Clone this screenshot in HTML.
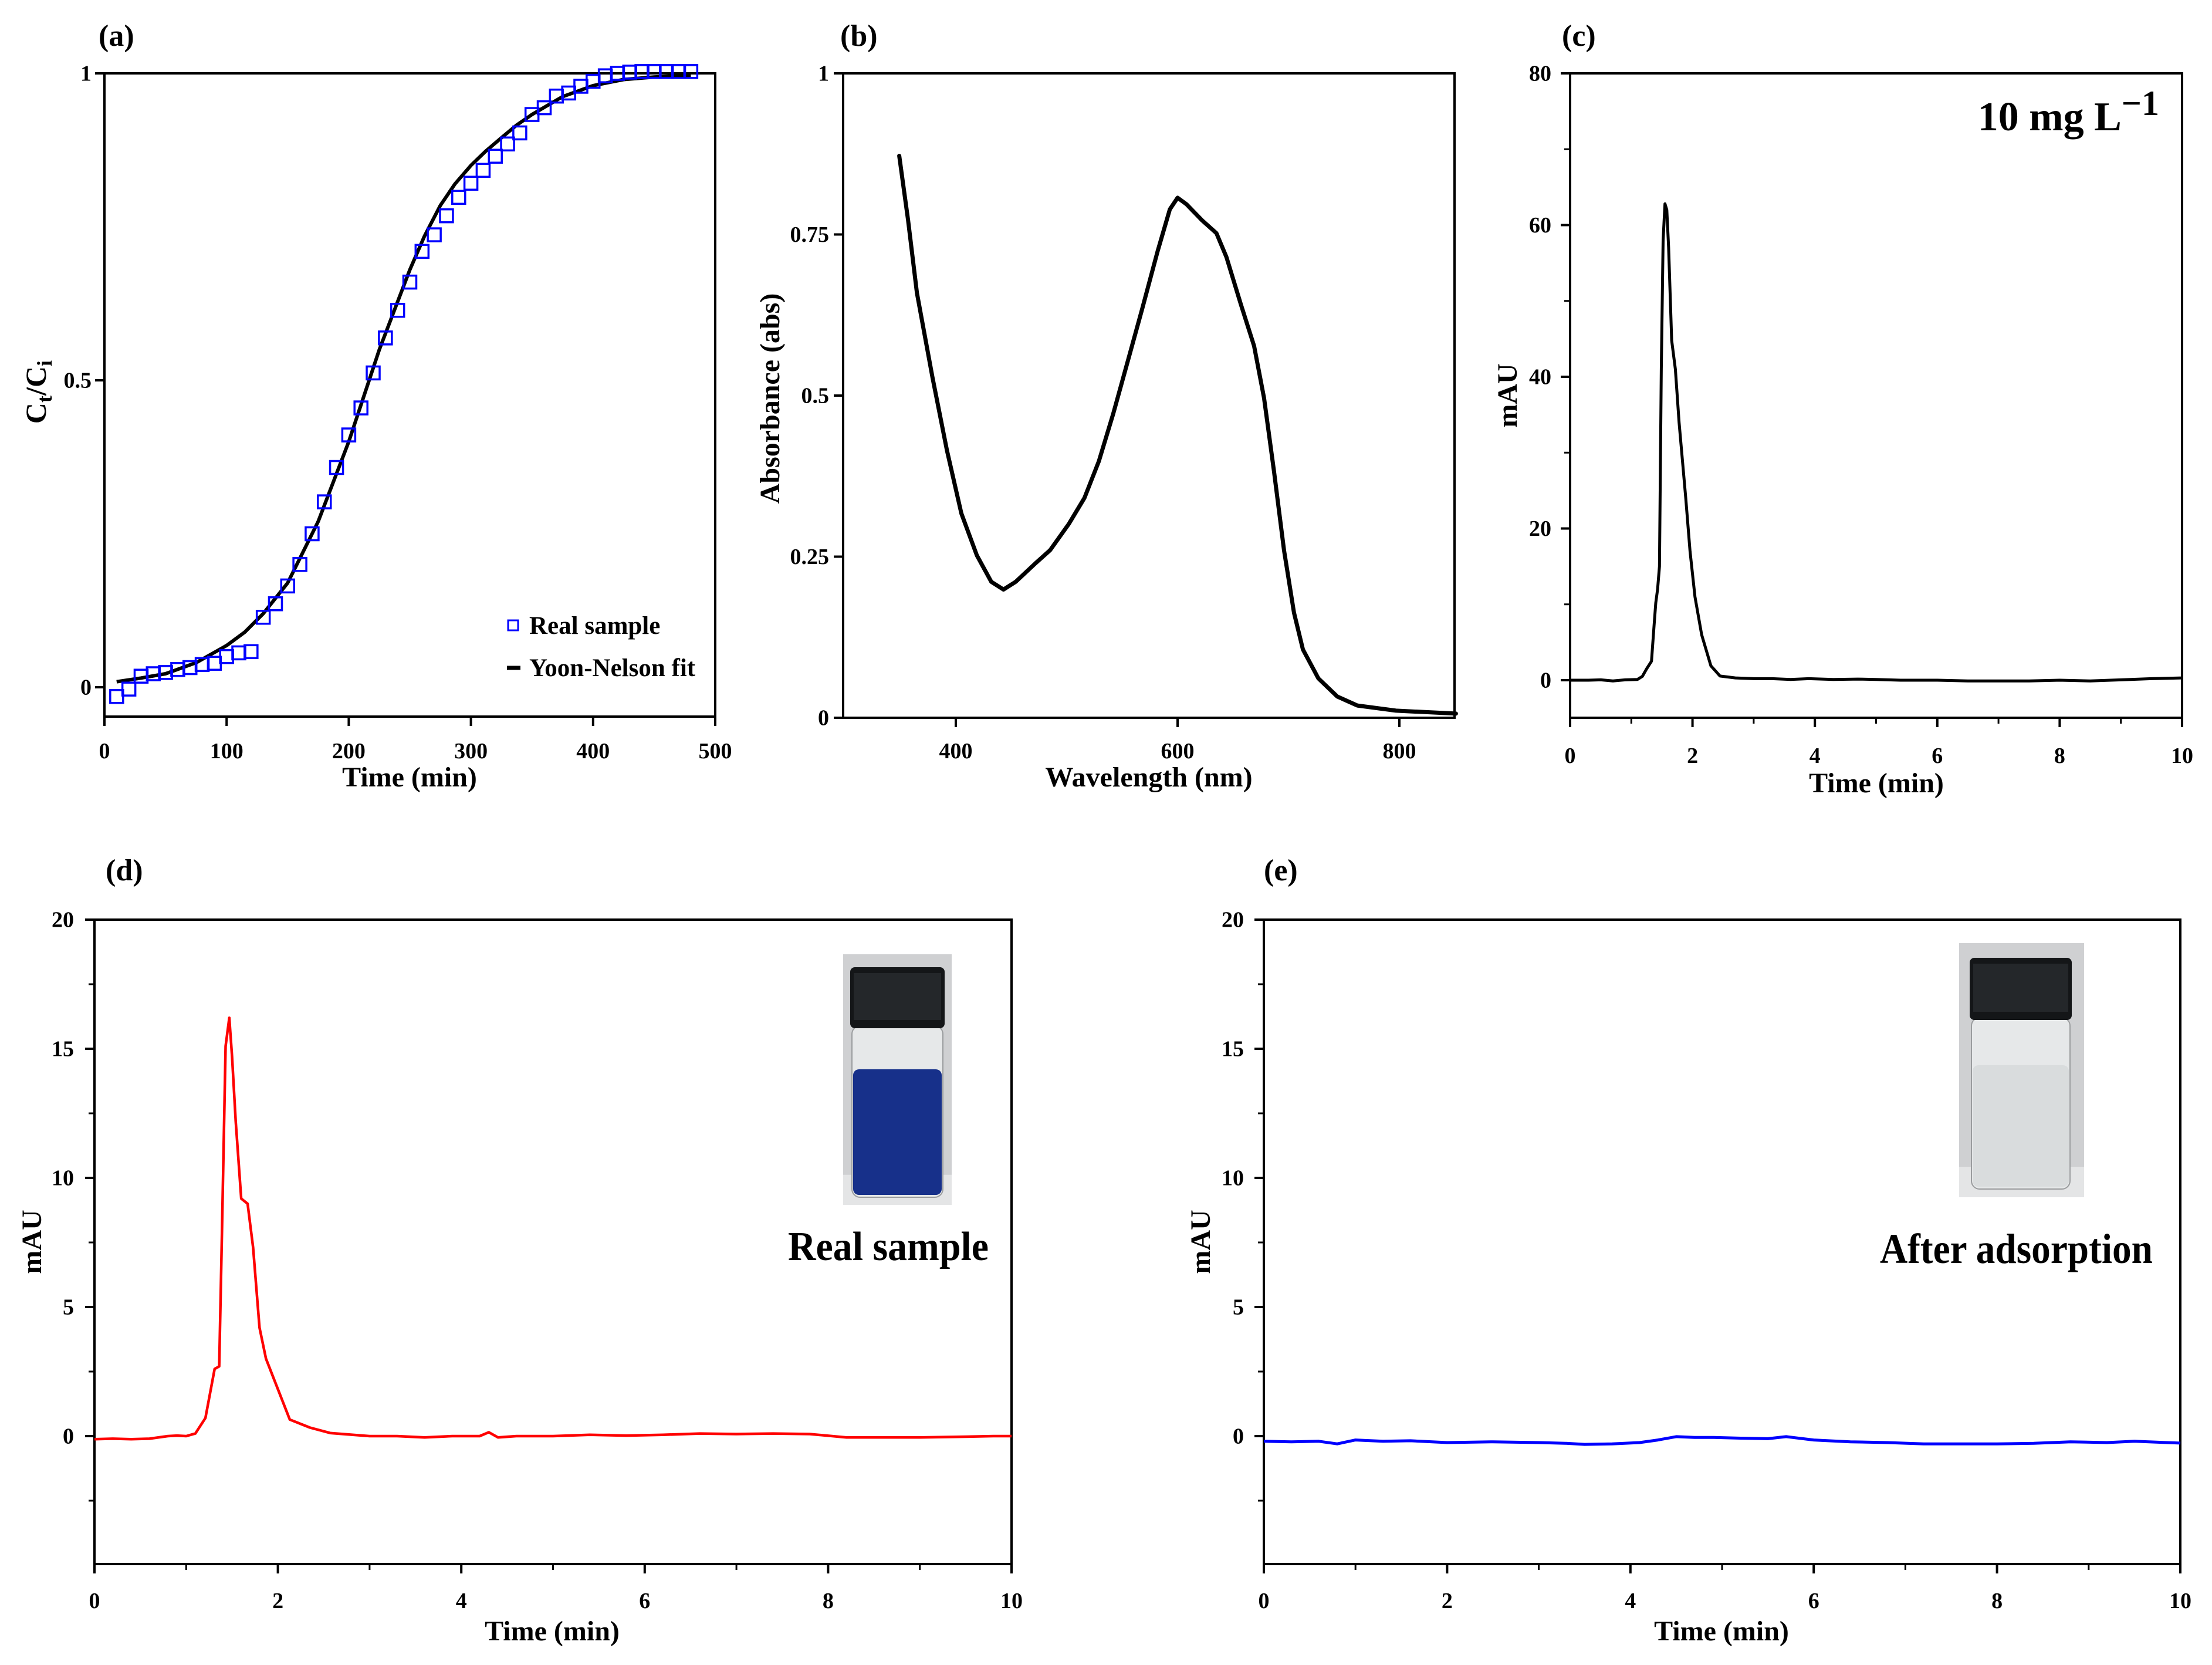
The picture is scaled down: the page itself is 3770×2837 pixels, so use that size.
<!DOCTYPE html>
<html><head><meta charset="utf-8">
<style>
html,body{margin:0;padding:0;background:#fff;}
svg{display:block;}
text{font-family:"Liberation Serif","DejaVu Serif",serif;font-weight:bold;fill:#000;}
</style></head>
<body>
<svg id="fig" width="3770" height="2837" viewBox="0 0 3770 2837" xmlns="http://www.w3.org/2000/svg"></svg>
<script>
// ---------- data ----------
const aTime = [10,20,30,40,50,60,70,80,90,100,110,120,130,140,150,160,170,180,190,200,210,220,230,240,250,260,270,280,290,300,310,320,330,340,350,360,370,380,390,400,410,420,430,440,450,460,470,480];
const aReal = [-0.015,-0.003,0.018,0.022,0.024,0.029,0.032,0.037,0.039,0.05,0.056,0.058,0.114,0.136,0.165,0.2,0.25,0.302,0.358,0.411,0.455,0.512,0.569,0.614,0.66,0.71,0.737,0.768,0.798,0.821,0.842,0.865,0.885,0.903,0.933,0.944,0.963,0.968,0.979,0.987,0.996,1.0,1.002,1.003,1.003,1.003,1.003,1.003];
const aFitT = [10,30,50,75,100,115,130,150,175,200,225,250,262,275,287,300,312,325,337,350,375,400,425,450,480];
const aFitY = [0.009,0.015,0.022,0.04,0.068,0.09,0.12,0.17,0.27,0.4,0.55,0.68,0.735,0.785,0.82,0.85,0.873,0.895,0.915,0.933,0.962,0.98,0.99,0.994,0.997];
const aXTicks = [0,100,200,300,400,500];
const aYTicks = [0,0.5,1];

const bWave = [349,357,365,379,392,405,419,432,443,454,472,485,502,516,529,542,555,568,582,593,600,608,622,635,644,657,669,678,687,696,705,713,727,744,762,797,851];
const bAbs = [0.872,0.772,0.659,0.528,0.415,0.317,0.252,0.211,0.199,0.211,0.24,0.26,0.301,0.341,0.398,0.472,0.553,0.634,0.724,0.789,0.807,0.797,0.772,0.752,0.715,0.642,0.577,0.496,0.382,0.26,0.163,0.106,0.061,0.033,0.019,0.011,0.0065];
const bXTicks = [400,600,800];
const bYTicks = [0,0.25,0.5,0.75,1];

const cTime = [0,0.3,0.5,0.7,0.9,1.1,1.18,1.25,1.33,1.37,1.4,1.43,1.46,1.49,1.52,1.55,1.58,1.61,1.66,1.72,1.78,1.89,1.96,2.04,2.15,2.3,2.45,2.7,3.0,3.3,3.6,3.9,4.3,4.7,5.0,5.4,6,6.5,7,7.5,8,8.5,9,9.5,10];
const cSig = [0,0,0.05,-0.1,0.05,0.1,0.5,1.5,2.5,7,10.2,12,15,41,58,62.8,62,57,44.8,41,34,24,17,11,6,1.9,0.55,0.3,0.2,0.2,0.1,0.2,0.1,0.15,0.1,0,0,-0.1,-0.1,-0.1,0,-0.1,0.05,0.2,0.3];
const cXTicks = [0,2,4,6,8,10];
const cYTicks = [0,20,40,60,80];

const dTime = [0,0.2,0.4,0.6,0.8,0.9,1.0,1.1,1.21,1.31,1.36,1.39,1.43,1.47,1.5,1.54,1.6,1.67,1.73,1.8,1.87,1.98,2.13,2.35,2.57,3.0,3.3,3.6,3.9,4.2,4.3,4.4,4.6,5.0,5.4,5.8,6.2,6.6,7.0,7.4,7.8,8.2,8.6,9.0,9.4,9.8,10];
const dSig = [-0.12,-0.1,-0.12,-0.1,0,0.02,0,0.1,0.7,2.6,2.7,7.9,15.1,16.2,14.7,12.2,9.2,9.0,7.3,4.2,3.0,2.0,0.64,0.33,0.12,0,0,-0.05,0,0,0.15,-0.05,0,0,0.05,0.02,0.05,0.1,0.08,0.1,0.08,-0.05,-0.05,-0.05,-0.03,0,0];
const eTime = [0,0.3,0.6,0.8,1.0,1.3,1.6,2.0,2.5,3.0,3.3,3.5,3.8,4.1,4.3,4.5,4.7,4.9,5.2,5.5,5.7,6.0,6.4,6.8,7.2,7.6,8.0,8.4,8.8,9.2,9.5,10];
const eSig = [-0.2,-0.22,-0.2,-0.3,-0.15,-0.2,-0.18,-0.25,-0.22,-0.25,-0.28,-0.32,-0.3,-0.25,-0.15,-0.02,-0.05,-0.05,-0.08,-0.1,-0.02,-0.15,-0.22,-0.25,-0.3,-0.3,-0.3,-0.28,-0.22,-0.25,-0.2,-0.27];
const deXTicks = [0,2,4,6,8,10];
const deYTicks = [0,5,10,15,20];

// ---------- helpers ----------
const NS = "http://www.w3.org/2000/svg";
const svg = document.getElementById("fig");
function mk(tag, attrs, parent){
  const e = document.createElementNS(NS, tag);
  for (const k in attrs) e.setAttribute(k, attrs[k]);
  (parent||svg).appendChild(e);
  return e;
}
function txt(s, x, y, size, anchor, parent, name){
  const t = mk("text", {x:x, y:y, "font-size":size, "text-anchor":anchor||"start"}, parent);
  t.textContent = s;
  
  
  return t;
}
function axes(p){
  const g = mk("g", {});
  
  
  const fr = mk("rect", {x:p.L, y:p.T, width:p.R-p.L, height:p.B-p.T, fill:"none", stroke:"#000", "stroke-width":4}, g);
  
  
  p.xt.forEach(v=>{
    const X = p.sx(v);
    const tk = mk("line", {x1:X, x2:X, y1:p.B, y2:p.B+16, stroke:"#000", "stroke-width":4}, g);
    
    
    txt(String(v), X, p.xlabY, p.tfs, "middle", g, "x-tick-label");
  });
  (p.xminor||[]).forEach(v=>{
    const X = p.sx(v);
    const tk = mk("line", {x1:X, x2:X, y1:p.B, y2:p.B+10, stroke:"#000", "stroke-width":3}, g);
    
    
  });
  p.yt.forEach(v=>{
    const Y = p.sy(v);
    const tk = mk("line", {x1:p.L-16, x2:p.L, y1:Y, y2:Y, stroke:"#000", "stroke-width":4}, g);
    
    
    txt(String(v), p.ylabX, Y+p.tfs*0.33, p.tfs, "end", g, "y-tick-label");
  });
  (p.yminor||[]).forEach(v=>{
    const Y = p.sy(v);
    const tk = mk("line", {x1:p.L-10, x2:p.L, y1:Y, y2:Y, stroke:"#000", "stroke-width":3}, g);
    
    
  });
  txt(p.xtitle, p.xtX, p.xtY, p.afs, "middle", g, "x-axis-title");
  const yt = txt(p.ytitle, 0, 0, p.afs, "middle", g, "y-axis-title");
  yt.setAttribute("transform", "translate("+p.ytX+","+p.ytY+") rotate(-90)");
  txt(p.label, p.labX, p.labY, 52, "start", g, "panel-label");
  return g;
}
function path(xs, ys, sx, sy){
  return xs.map((v,i)=>(i?"L":"M")+sx(v).toFixed(1)+","+sy(ys[i]).toFixed(1)).join(" ");
}

// ---------- panel a ----------
const ax = v=>178+v/500*1041, ay = v=>1171-v*1046;
const ga = axes({name:"panel-a", L:178,R:1219,T:125,B:1221, sx:ax, sy:ay, xt:aXTicks, yt:aYTicks, tfs:38, afs:48, xlabY:1292, ylabX:156,
  xtitle:"Time (min)", xtX:698, xtY:1340, ytitle:"", ytX:70, ytY:668, label:"(a)", labX:168, labY:78});
const ct = mk("text", {"font-size":50, "text-anchor":"middle", transform:"translate(78,668) rotate(-90)"}, ga);


ct.innerHTML = 'C<tspan font-size="36" dy="10">t</tspan><tspan dy="-10">/C</tspan><tspan font-size="36" dy="10">i</tspan>';
const fitA = mk("path", {d:path(aFitT,aFitY,ax,ay), fill:"none", stroke:"#000", "stroke-width":6, "stroke-linejoin":"round"}, ga);


aTime.forEach((t,i)=>{
  const r = mk("rect", {x:ax(t)-11, y:ay(aReal[i])-11, width:22, height:22, fill:"none", stroke:"#0000ff", "stroke-width":3.5}, ga);
  
  
});
const lg = mk("g", {}, ga);


const lm = mk("rect", {x:866, y:1057, width:17, height:17, fill:"none", stroke:"#0000ff", "stroke-width":3}, lg);


txt("Real sample", 902, 1080, 43, "start", lg, "legend-entry-real-sample");
const ll = mk("line", {x1:864, x2:887, y1:1138, y2:1138, stroke:"#000", "stroke-width":7}, lg);


txt("Yoon-Nelson fit", 902, 1152, 43, "start", lg, "legend-entry-fit");

// ---------- panel b ----------
const bx = v=>1629+(v-400)*1.89, by = v=>1223-v*1098;
const gb = axes({name:"panel-b", L:1437,R:2479,T:125,B:1223, sx:bx, sy:by, xt:bXTicks, yt:bYTicks, tfs:38, afs:48, xlabY:1292, ylabX:1413,
  xtitle:"Wavelength (nm)", xtX:1958, xtY:1340, ytitle:"Absorbance (abs)", ytX:1328, ytY:679, label:"(b)", labX:1432, labY:78});
const lb = mk("path", {d:path(bWave,bAbs,bx,by), fill:"none", stroke:"#000", "stroke-width":7, "stroke-linejoin":"round", "stroke-linecap":"round"}, gb);



// ---------- panel c ----------
const cx = v=>2676+v*104.3, cy = v=>1159-v*12.925;
const gc = axes({name:"panel-c", L:2676,R:3719,T:125,B:1223, sx:cx, sy:cy, xt:cXTicks, yt:cYTicks, xminor:[1,3,5,7,9], yminor:[10,30,50,70], tfs:38, afs:48, xlabY:1300, ylabX:2644,
  xtitle:"Time (min)", xtX:3198, xtY:1350, ytitle:"mAU", ytX:2585, ytY:674, label:"(c)", labX:2662, labY:78});
const lc = mk("path", {d:path(cTime,cSig,cx,cy), fill:"none", stroke:"#000", "stroke-width":5, "stroke-linejoin":"round"}, gc);


const cc = mk("text", {x:3680, y:222, "font-size":70, "text-anchor":"end"}, gc);


cc.innerHTML = '10 mg L<tspan dy="-26" font-size="60">−1</tspan>';

// ---------- panels d & e ----------
const dx = v=>161+v*156.3, dy = v=>2447-v*44;
const gd = axes({name:"panel-d", L:161,R:1724,T:1567,B:2665, sx:dx, sy:dy, xt:deXTicks, yt:deYTicks, xminor:[1,3,5,7,9], yminor:[-2.5,2.5,7.5,12.5,17.5], tfs:38, afs:48, xlabY:2740, ylabX:126,
  xtitle:"Time (min)", xtX:941, xtY:2795, ytitle:"mAU", ytX:70, ytY:2116, label:"(d)", labX:180, labY:1500});
const ld = mk("path", {d:path(dTime,dSig,dx,dy), fill:"none", stroke:"#ff0000", "stroke-width":4.5, "stroke-linejoin":"round"}, gd);


const rs = txt("Real sample", 1343, 2147, 70, "start", gd, "real-sample-label");
rs.setAttribute("textLength", "342");
rs.setAttribute("lengthAdjust", "spacingAndGlyphs");

const ex = v=>2154+v*156.2;
const ge = axes({name:"panel-e", L:2154,R:3716,T:1567,B:2665, sx:ex, sy:dy, xt:deXTicks, yt:deYTicks, xminor:[1,3,5,7,9], yminor:[-2.5,2.5,7.5,12.5,17.5], tfs:38, afs:48, xlabY:2740, ylabX:2120,
  xtitle:"Time (min)", xtX:2934, xtY:2795, ytitle:"mAU", ytX:2062, ytY:2116, label:"(e)", labX:2154, labY:1500});
const le = mk("path", {d:path(eTime,eSig,ex,dy), fill:"none", stroke:"#0000ff", "stroke-width":5, "stroke-linejoin":"round"}, ge);


const aa = txt("After adsorption", 3204, 2152, 72, "start", ge, "after-adsorption-label");
aa.setAttribute("textLength", "465");
aa.setAttribute("lengthAdjust", "spacingAndGlyphs");

// ---------- vial photos ----------
function vial(g, name, x0, y0, w, h, capY0, capY1, capX0, capX1, liqY, liqCol, glassBottom){
  const vg = mk("g", {}, g);
  
  
  mk("rect", {x:x0, y:y0, width:w, height:h, fill:"#cfd0d2"}, vg);
  mk("rect", {x:x0, y:y0+h*0.88, width:w, height:h*0.12, fill:"#e4e5e6"}, vg);
  mk("rect", {x:capX0+3, y:capY1-4, width:capX1-capX0-6, height:glassBottom-capY1+4, rx:14, fill:"#e6e8e9", stroke:"#9a9c9e", "stroke-width":2}, vg);
  mk("rect", {x:capX0+5, y:liqY, width:capX1-capX0-10, height:glassBottom-liqY-4, rx:10, fill:liqCol}, vg);
  mk("rect", {x:capX0, y:capY0, width:capX1-capX0, height:capY1-capY0, rx:8, fill:"#141618"}, vg);
  mk("rect", {x:capX0+6, y:capY0+10, width:capX1-capX0-12, height:capY1-capY0-24, fill:"#24272a"}, vg);
}
vial(gd, "real-sample-vial-photo", 1437, 1626, 185, 427, 1648, 1752, 1449, 1610, 1822, "#17308a", 2040);
vial(ge, "after-adsorption-vial-photo", 3339, 1607, 213, 433, 1632, 1738, 3357, 3531, 1815, "#d9dcdd", 2026);
</script>
</body></html>
